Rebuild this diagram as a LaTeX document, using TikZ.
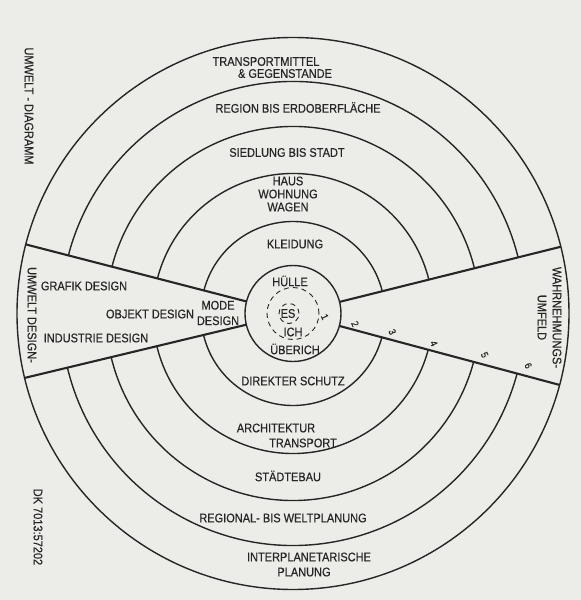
\documentclass[tikz,border=0pt]{standalone}
\usepackage{fontspec}
\setmainfont{Liberation Sans}[FakeStretch=0.88, FakeBold=0.4]
\usepackage{tikz}
\definecolor{paper}{RGB}{236,236,233}
\definecolor{ink}{RGB}{38,38,38}
\tikzstyle{ring} = [draw=ink, line width=1.4pt]
\tikzstyle{wedge} = [draw=ink, line width=2.1pt]
\tikzstyle{dashring} = [draw=ink, line width=0.9pt, dash pattern=on 5pt off 4pt]
\tikzstyle{lbl} = [text=ink, font=\fontsize{12.5}{13}\selectfont, align=center, inner sep=0pt]
\tikzstyle{num} = [lbl, font=\fontsize{10}{11}\selectfont, rotate=-65]
\tikzstyle{side} = [lbl, rotate=-90]

\begin{document}
\begin{tikzpicture}[x=1pt, y=1pt]
			\fill [paper] (-293,-286.5) rectangle (288,313.5);
			\useasboundingbox (-293,-286.5) rectangle (288,313.5);
			
			% circles and rings
			\draw [ring] (0,0) circle (276);
			\draw [ring] (0,0) circle (48);
			\foreach \r in {92,140,187,232} {
				\draw [ring] (14:\r) arc (14:165.5:\r);
				\draw [ring] (193.5:\r) arc (193.5:345:\r);
			}
			\draw [dashring] (0,0) circle (26);
			\draw [dashring] (-4,0) circle (10);
			
			% wedges
			\draw [wedge] (165.5:48) -- (165.5:276);
			\draw [wedge] (193.5:48) -- (193.5:276);
			\draw [wedge] (14:48) -- (14:276);
			\draw [wedge] (-15:48) -- (-15:276);
			
			\node (trans) [lbl] at (-27,252) {TRANSPORTMITTEL};
			\node (gegen) [lbl] at (-8,240) {\& GEGENSTANDE};
			\node (region) [lbl] at (5,206) {REGION BIS ERDOBERFLÄCHE};
			\node (siedlung) [lbl] at (-6,161) {SIEDLUNG BIS STADT};
			\node (haus) [lbl] at (-5,119.5) {HAUS\\WOHNUNG\\WAGEN};
			\node (kleidung) [lbl] at (2,69.5) {KLEIDUNG};
			\node (huelle) [lbl] at (-3,32.5) {HÜLLE};
			\node (es) [lbl] at (-5,0) {ES};
			\node (ich) [lbl] at (0,-18.5) {ICH};
			\node (ueberich) [lbl] at (2,-35.5) {ÜBERICH};
			\node (schutz) [lbl] at (0,-67.5) {DIREKTER SCHUTZ};
			\node (archi) [lbl] at (-17,-114.5) {ARCHITEKTUR};
			\node (transport) [lbl] at (10,-129.5) {TRANSPORT};
			\node (staedte) [lbl] at (-5,-162.5) {STÄDTEBAU};
			\node (welt) [lbl] at (-10,-204.5) {REGIONAL- BIS WELTPLANUNG};
			\node (inter) [lbl] at (16,-243.5) {INTERPLANETARISCHE};
			\node (planung) [lbl] at (11,-258.5) {PLANUNG};
			
			\node (grafik) [lbl] at (-209,27.5) {GRAFIK DESIGN};
			\node (objekt) [lbl] at (-143,-0.5) {OBJEKT DESIGN};
			\node (industrie) [lbl] at (-197,-24.5) {INDUSTRIE DESIGN};
			\node (mode) [lbl, font=\fontsize{12.5}{15.5}\selectfont] at (-75,0.5) {MODE\\DESIGN};
			\node (umweltdesign) [side] at (-261,-1.5) {UMWELT DESIGN-};
			\node (umfeld) [side, font=\fontsize{12.5}{15}\selectfont] at (256.5,-4) {WAHRNEHMUNGS-\\UMFELD};
			
			\node (titel) [side] at (-264,207.5) {UMWELT - DIAGRAMM};
			\node (dk) [side] at (-255,-213.5) {DK 7013:57202};
			
			\foreach \n/\r/\a in {1/32/-6, 2/63/-9.5, 3/101/-10.5, 4/144/-12, 5/196/-12.2, 6/241/-12.5}
				\node (num\n) [num] at (\a:\r) {\n};
\end{tikzpicture}
\end{document}
